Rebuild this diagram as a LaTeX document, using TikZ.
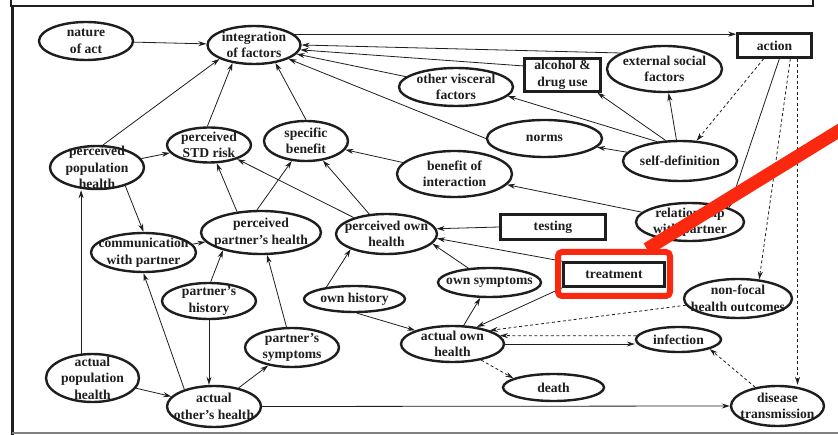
\documentclass[tikz,border=0pt]{standalone}
\usepackage{fontspec}
\setmainfont{Liberation Serif}
\usetikzlibrary{shapes,positioning,arrows.meta}
\definecolor{ink}{RGB}{30,30,30}
\definecolor{hlred}{RGB}{250,40,15}

\begin{document}
\begin{tikzpicture}[x=1pt,y=-1pt,
oval/.style={ellipse, draw=ink, line width=2.4pt, inner sep=0pt}, % the factors
box/.style={rectangle, draw=ink, line width=2.6pt, inner sep=0pt, txt}]

\tikzset{
  txt/.style={font=\bfseries\fontsize{13.6}{16.5}\selectfont, text=ink, align=center, inner sep=0pt},
  every label/.append style={txt},
  every edge/.append style={-{Stealth[length=8pt,width=5pt]}, line width=0.8pt, draw=ink},
  weak/.style={dash pattern=on 3pt off 2.5pt},
  redbox/.style={rectangle, draw=hlred, line width=6pt, rounded corners=4pt},
  redline/.style={draw=hlred, line width=13pt}
}
    \useasboundingbox (0,0) rectangle (838,435);

    % frame of the scanned page
    \draw[ink, line width=2.2pt] (11,-5) rectangle (813,6);
    \draw[ink, line width=2.8pt] (12.5,6) -- (12.5,440);
    \draw[gray, line width=1.5pt] (12,433) -- (845,433);

    \node[oval, minimum width=94pt, minimum height=38pt, label=center:{nature\\of act}] at (86,41) (nature) {};
    \node[oval, minimum width=93pt, minimum height=38pt, label=center:{integration\\of factors}] at (254,45) (integ) {};
    \node[box, minimum width=74pt, minimum height=24pt] at (774.5,45.5) (action) {action};
    \node[oval, minimum width=115pt, minimum height=46pt, label=center:{external social\\factors}] at (664.5,69) (ext) {};
    \node[box, minimum width=76pt, minimum height=33pt] at (562.5,75) (alc) {alcohol \&\\drug use};
    \node[oval, minimum width=114pt, minimum height=38pt, label=center:{other visceral\\factors}] at (456,87) (visc) {};
    \node[oval, minimum width=115pt, minimum height=37pt, label=center:{norms}] at (544.5,138.5) (norms) {};
    \node[oval, minimum width=114pt, minimum height=40pt, label=center:{self-definition}] at (680,161) (self) {};
    \node[oval, minimum width=115pt, minimum height=46pt, label=center:{benefit of\\interaction}] at (454.5,174) (boi) {};
    \node[oval, minimum width=108pt, minimum height=38pt, label=center:{relationship\\with partner}] at (690,222) (rel) {};

    \node[oval, minimum width=94pt, minimum height=43pt, label=center:{perceived\\population\\health}] at (97,167.5) (ppop) {};
    \node[oval, minimum width=84pt, minimum height=35pt, label=center:{perceived\\STD risk}] at (209,145) (std) {};
    \node[oval, minimum width=84pt, minimum height=40pt, label=center:{specific\\benefit}] at (306,141) (spec) {};
    \node[oval, minimum width=120pt, minimum height=43pt, label=center:{perceived\\partner’s health}] at (261,232.5) (ppart) {};
    \node[oval, minimum width=105pt, minimum height=39pt, label=center:{communication\\with partner}] at (143.5,252.5) (comm) {};
    \node[oval, minimum width=101pt, minimum height=40pt, label=center:{perceived own\\health}] at (386.5,234) (pown) {};
    \node[box, minimum width=105pt, minimum height=25pt] at (553,227) (test) {testing};
    \node[box, minimum width=101pt, minimum height=24pt] at (614,274.5) (treat) {treatment};

    \node[oval, minimum width=94pt, minimum height=36pt, label=center:{partner’s\\history}] at (209,301) (phist) {};
    \node[oval, minimum width=101pt, minimum height=26pt, label=center:{own history}] at (354.5,299) (ohist) {};
    \node[oval, minimum width=103pt, minimum height=29pt, label=center:{own symptoms}] at (489.5,282.5) (osym) {};
    \node[oval, minimum width=108pt, minimum height=39pt, label=center:{non-focal\\health outcomes}] at (738,298.5) (nonf) {};
    \node[oval, minimum width=94pt, minimum height=39pt, label=center:{partner’s\\symptoms}] at (292,347.5) (psym) {};
    \node[oval, minimum width=103pt, minimum height=36pt, label=center:{actual own\\health}] at (452.5,344) (aown) {};
    \node[oval, minimum width=85pt, minimum height=25pt, label=center:{infection}] at (678.5,339.5) (inf) {};
    \node[oval, minimum width=93pt, minimum height=48pt, label=center:{actual\\population\\health}] at (92.5,378) (apop) {};
    \node[oval, minimum width=94pt, minimum height=41pt, label=center:{actual\\other’s health}] at (214,406.5) (aother) {};
    \node[oval, minimum width=101pt, minimum height=27pt, label=center:{death}] at (553.5,387.5) (death) {};
    \node[oval, minimum width=93pt, minimum height=40pt, label=center:{disease\\transmission}] at (777.5,406) (dis) {};

    \draw
        (nature) edge (integ)
        (integ.15) edge (action.west |- integ.15)
        (ext.160) edge (integ.east)
        (alc.167) edge (integ.-6)
        (visc) edge (integ.-12)
        (norms.west) edge (integ.-22)
        (ppop.75) edge (integ.-158)
        (std.95) edge (integ.-140)
        (spec.north) edge (integ.-40);

    \draw
        (self.140) edge (visc.-10)
        (self.125) edge (alc.-27)
        (self) edge (ext)
        (self) edge (norms)
        (rel) edge (boi)
        (boi) edge (spec)
        (action.-70) edge (rel.20)
        (action) edge[weak] (self)
        (action.-40) edge[weak] (nonf.42)
        (action.-30) edge[weak] (action.-30 |- dis.north);

    \draw
        (ppop) edge (std)
        (ppop.-33) edge (comm.north)
        (apop.115) edge (apop.115 |- ppop.south)
        (apop) edge (aother)
        (aother.150) edge (comm.south)
        (aother) edge (psym)
        (phist.south) edge (phist.south |- aother.north)
        (phist.85) edge (ppart.-155)
        (psym) edge (ppart)
        (comm) edge (ppart)
        (ppart.139) edge (std)
        (ppart.100) edge (spec)
        (pown) edge (std)
        (pown) edge (spec);

    \draw
        (test.west) edge (pown.6)
        (treat.north west) edge (pown.-5)
        (osym) edge (pown.-12)
        (ohist.157) edge (pown.-157)
        (ohist.-80) edge (aown.160)
        (aown) edge (osym)
        (treat.south west) edge (aown.35)
        (nonf) edge[weak] (aown.20)
        (inf.175) edge[weak] (aown.10)
        (aown.east) edge (aown.east -| inf.west)
        (aown) edge[weak] (death.167)
        (dis) edge[weak] (inf.-17)
        (aother.east) edge (dis.west);

    % highlight on top of the scan
    \node[redbox, minimum width=112pt, minimum height=44pt] at (614,274) (hl) {};
    \coordinate (tip) at (850,124);
    \draw[redline] ([xshift=33pt]hl.north) -- (tip);

\end{tikzpicture}
\end{document}
